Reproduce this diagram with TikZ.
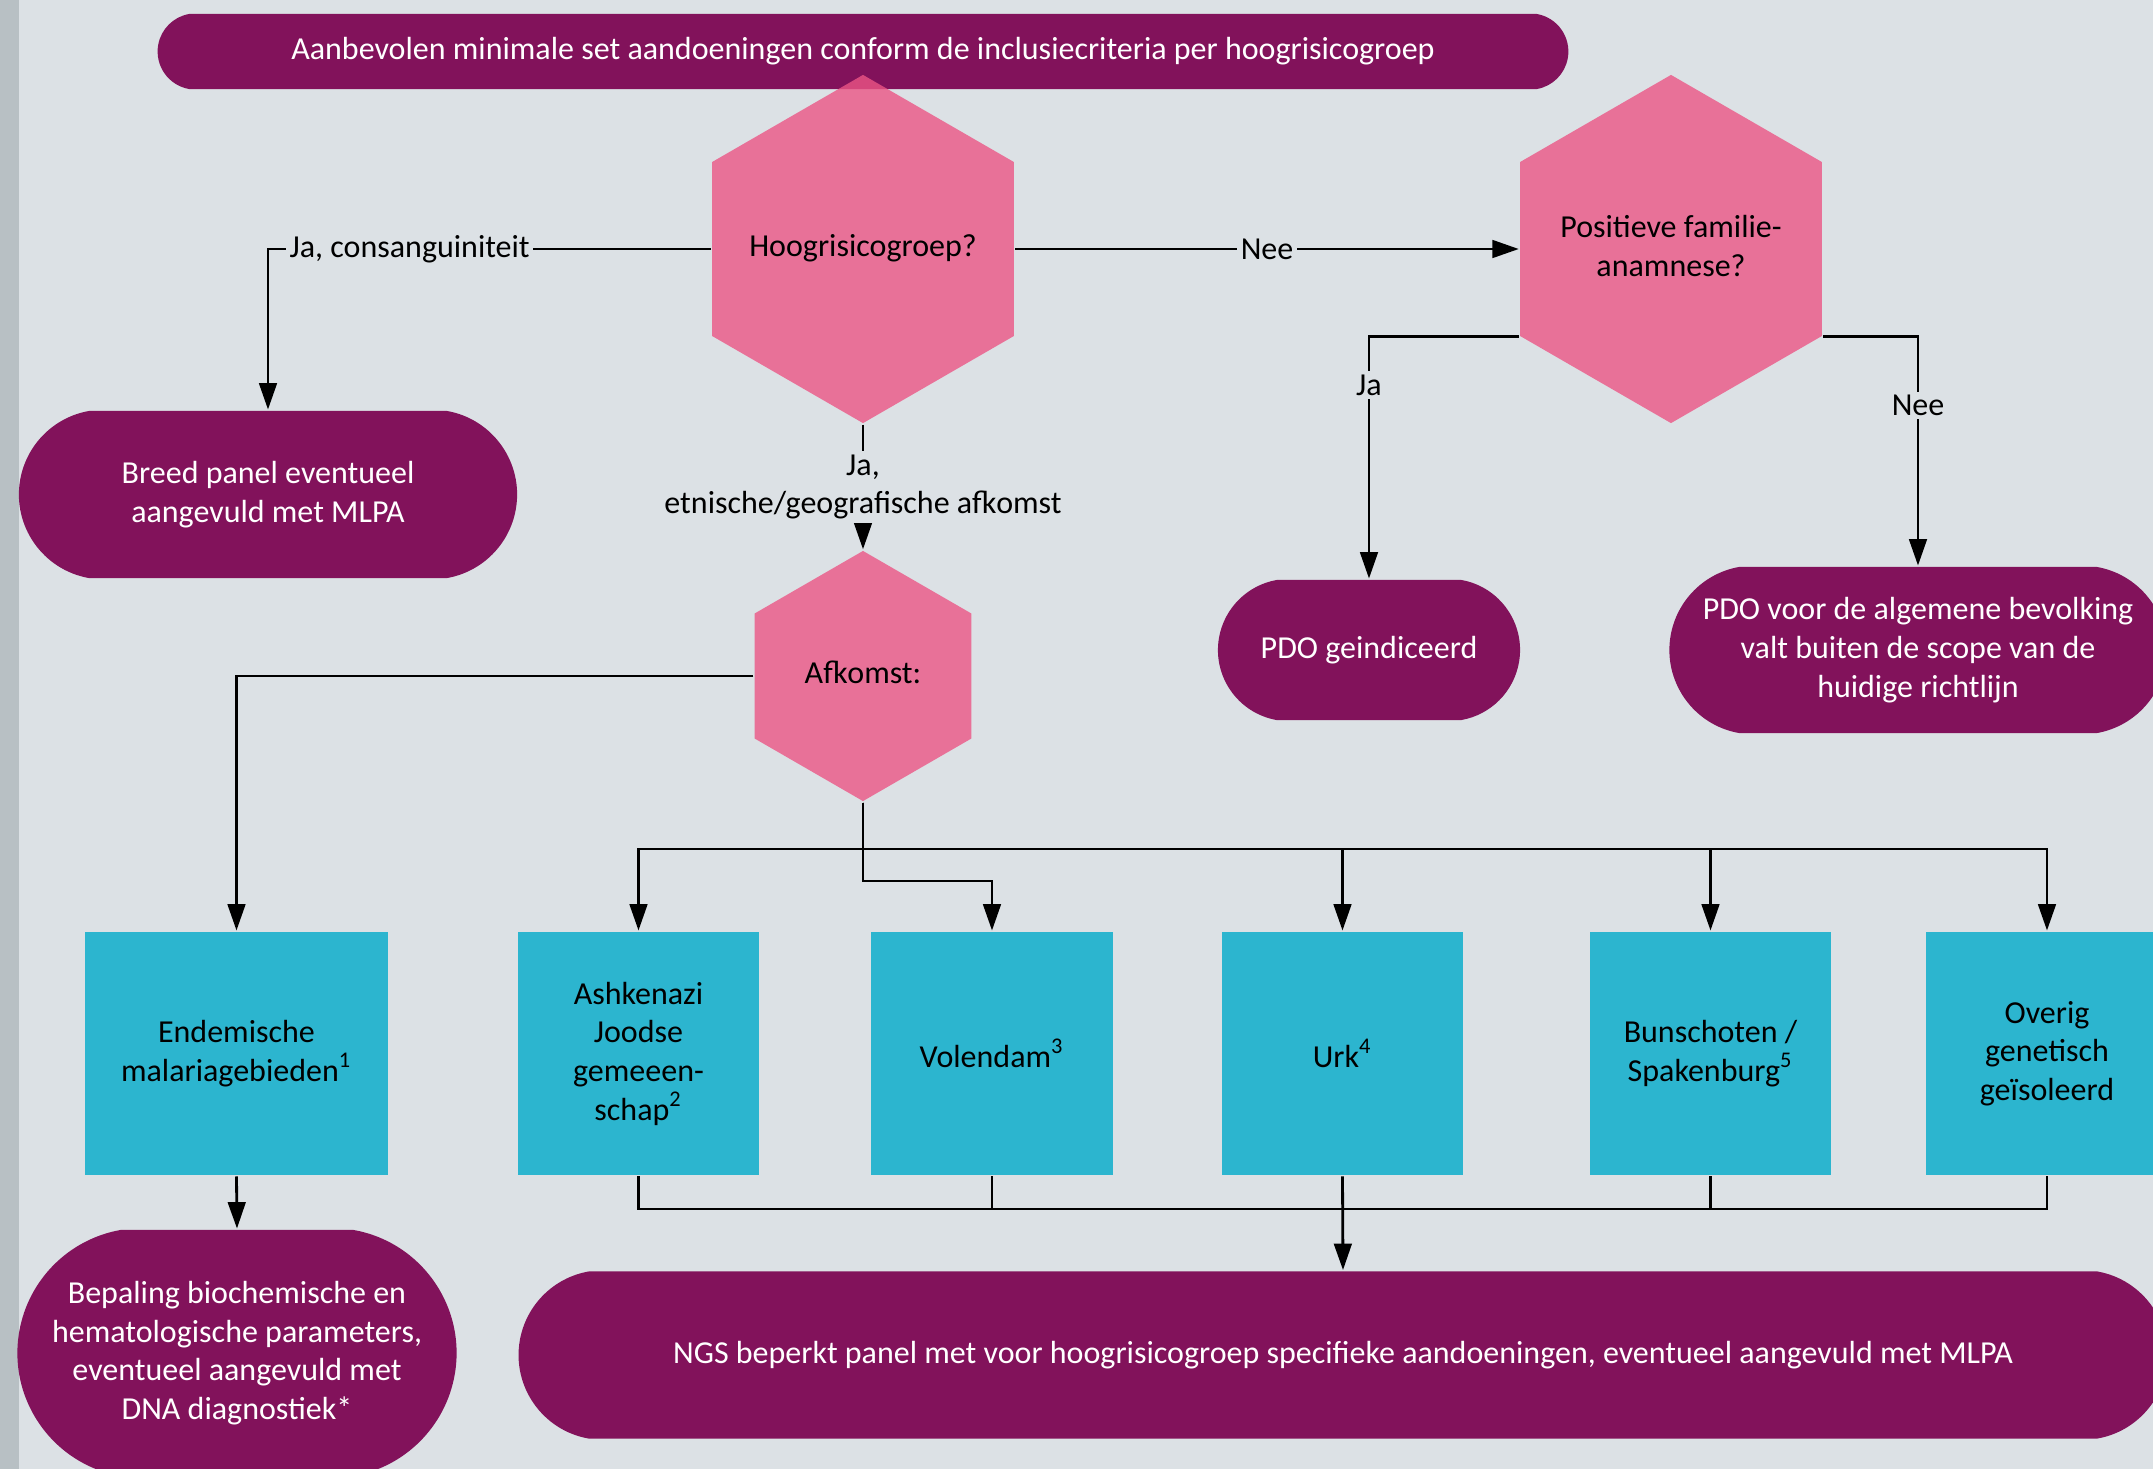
\documentclass[tikz,border=0pt]{standalone}
\usepackage{fontspec}
\setmainfont{Carlito}
\usetikzlibrary{shapes.geometric,shapes.misc,arrows.meta}
\definecolor{achtergrond}{HTML}{DCE1E5}
\definecolor{zijrand}{HTML}{B8C0C4}
\definecolor{paars}{HTML}{82125B}
\definecolor{roze}{RGB}{236,85,133}
\definecolor{cyaan}{HTML}{2CB5CF}
\newcommand{\hextekst}[1]{\makebox[0pt]{\begin{tabular}{@{}c@{}}#1\end{tabular}}}
\tikzset{
  eind/.style={rounded rectangle, rounded rectangle arc length=160, fill=paars,
    text=white, align=center, inner sep=2pt},
  vraag/.style={regular polygon, regular polygon sides=6, shape border rotate=90,
    fill=roze, fill opacity=0.8, text opacity=1, inner sep=0pt},
  groep/.style={rectangle, fill=cyaan, minimum width=2.41cm, minimum height=2.43cm,
    align=center, inner sep=2pt},
  pijl/.style={-{Triangle[width=5pt,length=7.5pt]}},
  lbl/.style={fill=achtergrond, inner sep=1pt, text=black, align=center}
}
\begin{document}
\begin{tikzpicture}[x=0.01cm,y=-0.01cm,line width=0.8pt,font=\fontsize{9.1}{11}\selectfont]
        \useasboundingbox (0,0) rectangle (2153,1469);
        \clip (0,0) rectangle (2153,1469);
        \fill[achtergrond] (0,0) rectangle (2153,1469);
        \fill[zijrand] (0,0) rectangle (19,1469);
        %% Titel
        \node[eind, minimum width=14.24cm, minimum height=0.75cm] (titel) at (863,51.5)
            {Aanbevolen minimale set aandoeningen conform de inclusiecriteria per hoogrisicogroep};
        %% Vragen
        \node[vraag, minimum size=3.48cm] (hoog) at (863,249) {\hextekst{Hoogrisicogroep?}};
        \node[vraag, minimum size=3.48cm] (fam) at (1671,249) {\hextekst{Positieve familie-\\anamnese?}};
        \node[vraag, minimum size=2.5cm] (afkomst) at (863,676) {\hextekst{Afkomst:}};
        %% Uitkomsten boven
        \node[eind, minimum width=5.12cm, minimum height=1.67cm] (breed) at (268,494.5)
            {Breed panel eventueel\\aangevuld met MLPA};
        \node[eind, minimum width=3.16cm, minimum height=1.40cm] (pdoja) at (1369,650)
            {PDO geindiceerd};
        \node[eind, minimum width=5.11cm, minimum height=1.66cm] (pdonee) at (1918,650)
            {PDO voor de algemene bevolking\\valt buiten de scope van de\\huidige richtlijn};
        %% Groepen
        \node[groep, minimum width=3.03cm] (endem) at (236.5,1053.5)
            {Endemische\\malariagebieden\textsuperscript{1}};
        \node[groep] (ashk) at (638.5,1053.5) {Ashkenazi\\Joodse\\gemeeen-\\schap\textsuperscript{2}};
        \node[groep] (volendam) at (992,1053.5) {Volendam\textsuperscript{3}};
        \node[groep] (urk) at (1342.5,1053.5) {Urk\textsuperscript{4}};
        \node[groep] (bunsch) at (1710.5,1053.5) {Bunschoten /\\Spakenburg\textsuperscript{5}};
        \node[groep] (overig) at (2047,1053.5) {Overig\\genetisch\\geïsoleerd};
        %% Uitkomsten onder
        \node[eind, minimum width=4.53cm, minimum height=2.46cm] (bepaling) at (237,1353)
            {Bepaling biochemische en\\hematologische parameters,\\eventueel aangevuld met\\DNA diagnostiek*};
        \node[eind, minimum width=16.62cm, minimum height=1.67cm] (ngs) at (1343,1355)
            {NGS beperkt panel met voor hoogrisicogroep specifieke aandoeningen, eventueel aangevuld met MLPA};
        %% Verbindingen
        \coordinate (busboven) at (0,849);
        \coordinate (busvol) at (0,881);
        \coordinate (busonder) at (0,1209);
        \draw[pijl] (hoog.west) -| node[lbl, pos=0.34] {Ja, consanguiniteit} (breed.north);
        \draw[pijl] (hoog.east) -- node[lbl] {Nee} (fam.west);
        \draw[pijl] (hoog.south) -- node[lbl] {Ja,\\etnische/geografische afkomst} (afkomst.north);
        \draw[pijl] (fam.210) -| node[lbl, pos=0.6] {Ja} (pdoja.north);
        \draw[pijl] (fam.330) -| node[lbl, pos=0.65] {Nee} (pdonee.north);
        \draw[pijl] (afkomst.west) -| (endem.north);
        \draw[pijl] (endem.south) -- (bepaling.north);
        \foreach \g in {ashk,urk,bunsch,overig} {
            \draw[pijl] (afkomst.south) |- (\g.north |- busboven) -- (\g.north);
        }
        \draw[pijl] (afkomst.south) |- (volendam.north |- busvol) -- (volendam.north);
        \foreach \g in {ashk,volendam,bunsch,overig} {
            \draw (\g.south) |- (urk.south |- busonder);
        }
        \draw[pijl] (urk.south) -- (ngs.north);
\end{tikzpicture}
\end{document}
